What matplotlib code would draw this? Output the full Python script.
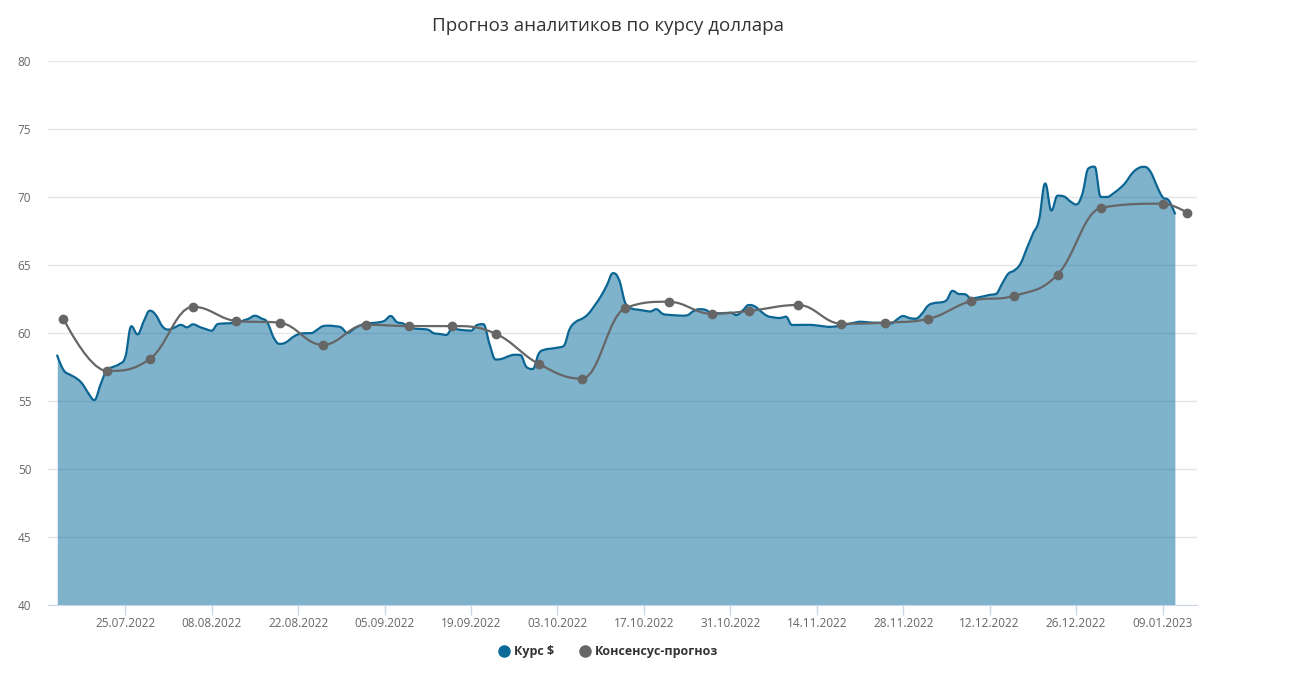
import numpy as np
import pandas as pd
import matplotlib
matplotlib.use('Agg')
import matplotlib.pyplot as plt
import matplotlib.dates as mdates
from matplotlib.lines import Line2D

plt.rcParams['font.family'] = ['Open Sans', 'DejaVu Sans']

# курс доллара, по дням начиная с 14.07.2022
kurs_start = '2022-07-14'
kurs = [58.33, 57.28, 56.95, 56.7, 56.3, 55.6, 55.07, 56.2, 57.25, 57.5, 57.7,
        58.2, 60.5, 59.9, 60.85, 61.64, 61.3, 60.5, 60.25, 60.4, 60.6, 60.42,
        60.64, 60.45, 60.3, 60.17, 60.66, 60.7, 60.72, 60.76, 60.9, 61.05, 61.27,
        61.08, 60.8, 59.7, 59.2, 59.3, 59.65, 59.9, 59.98, 59.98, 60.2, 60.5,
        60.54, 60.5, 60.4, 60.0, 60.3, 60.55, 60.7, 60.73, 60.78, 60.9, 61.25,
        60.8, 60.7, 60.4, 60.32, 60.29, 60.25, 59.98, 59.93, 59.85, 60.35, 60.25,
        60.2, 60.17, 60.59, 60.65, 59.2, 58.05, 58.1, 58.28, 58.4, 58.38, 57.5,
        57.35, 58.5, 58.78, 58.85, 58.92, 59.04, 60.3, 60.83, 61.05, 61.4, 62.0,
        62.67, 63.5, 64.4, 63.9, 62.2, 61.8, 61.72, 61.65, 61.58, 61.75, 61.42,
        61.33, 61.3, 61.27, 61.3, 61.6, 61.75, 61.7, 61.45, 61.45, 61.47, 61.5,
        61.32, 61.65, 62.06, 61.95, 61.57, 61.25, 61.15, 61.1, 61.2, 60.59, 60.59,
        60.6, 60.6, 60.55, 60.5, 60.45, 60.48, 60.55, 60.65, 60.75, 60.83, 60.8,
        60.76, 60.76, 60.7, 60.7, 61.0, 61.25, 61.1, 61.05, 61.4, 62.0, 62.2,
        62.25, 62.4, 63.1, 62.87, 62.85, 62.55, 62.6, 62.7, 62.8, 62.87, 63.6,
        64.35, 64.6, 65.1, 66.2, 67.3, 68.3, 71.0, 69.0, 70.1, 70.05, 69.7, 69.45,
        70.2, 72.1, 72.23, 70.0, 70.0, 70.25, 70.6, 71.05, 71.7, 72.1, 72.22,
        71.9, 70.9, 70.0, 69.75, 68.8]

# консенсус-прогноз
prog_dates = ['2022-07-15', '2022-07-22', '2022-07-29', '2022-08-05', '2022-08-12',
              '2022-08-19', '2022-08-26', '2022-09-02', '2022-09-09', '2022-09-16',
              '2022-09-23', '2022-09-30', '2022-10-07', '2022-10-14', '2022-10-21',
              '2022-10-28', '2022-11-03', '2022-11-11', '2022-11-18', '2022-11-25',
              '2022-12-02', '2022-12-09', '2022-12-16', '2022-12-23', '2022-12-30',
              '2023-01-09', '2023-01-13']
prog = [61.05, 57.21, 58.09, 61.93, 60.88, 60.76, 59.12, 60.61, 60.51, 60.51,
        59.95, 57.72, 56.64, 61.84, 62.30, 61.41, 61.62, 62.06, 60.68, 60.76,
        61.03, 62.35, 62.74, 64.29, 69.21, 69.51, 68.85]

tick_dates = pd.date_range('2022-07-25', '2023-01-09', freq='14D')


def spline(x, y, smoothing=1.5, steps=10):
    # сглаживание как у highcharts spline
    x = np.asarray(x, float)
    y = np.asarray(y, float)
    n = len(x)
    lx, ly = x.copy(), y.copy()
    rx, ry = x.copy(), y.copy()
    d = smoothing + 1
    for i in range(1, n - 1):
        lcx = (smoothing * x[i] + x[i-1]) / d
        lcy = (smoothing * y[i] + y[i-1]) / d
        rcx = (smoothing * x[i] + x[i+1]) / d
        rcy = (smoothing * y[i] + y[i+1]) / d
        if rcx != lcx:
            corr = (rcy - lcy) * (rcx - x[i]) / (rcx - lcx) + y[i] - rcy
            lcy += corr
            rcy += corr
            if lcy > y[i-1] and lcy > y[i]:
                lcy = max(y[i-1], y[i]); rcy = 2 * y[i] - lcy
            elif lcy < y[i-1] and lcy < y[i]:
                lcy = min(y[i-1], y[i]); rcy = 2 * y[i] - lcy
            if rcy > y[i+1] and rcy > y[i]:
                rcy = max(y[i+1], y[i]); lcy = 2 * y[i] - rcy
            elif rcy < y[i+1] and rcy < y[i]:
                rcy = min(y[i+1], y[i]); lcy = 2 * y[i] - rcy
        lx[i], ly[i], rx[i], ry[i] = lcx, lcy, rcx, rcy
    t = np.linspace(0, 1, steps, endpoint=False)[:, None]
    xs, ys = [], []
    for i in range(n - 1):
        px = np.array([x[i], rx[i], lx[i+1], x[i+1]])
        py = np.array([y[i], ry[i], ly[i+1], y[i+1]])
        b = np.hstack([(1-t)**3, 3*(1-t)**2*t, 3*(1-t)*t**2, t**3])
        xs.append(b @ px)
        ys.append(b @ py)
    xs.append([x[-1]])
    ys.append([y[-1]])
    return np.concatenate(xs), np.concatenate(ys)


kx = mdates.date2num(pd.date_range(kurs_start, periods=len(kurs), freq='D'))
px = mdates.date2num(pd.to_datetime(prog_dates))
kxs, kys = spline(kx, kurs)
pxs, pys = spline(px, prog)

fig = plt.figure(figsize=(13, 7), dpi=100)
ax = fig.add_axes([48/1300, 1-605/700, (1197-48)/1300, (605-61)/700])

ax.fill_between(kxs, kys, 40, color='#006699', alpha=0.5, lw=0, zorder=2)
ax.plot(kxs, kys, color='#0b6593', lw=1.6, zorder=3)
ax.plot(pxs, pys, color='#666666', lw=1.6, zorder=4)
ax.plot(px, prog, 'o', color='#666666', ms=6, zorder=5)

ax.set_ylim(40, 80)
ax.set_yticks(range(40, 81, 5))
ax.set_xlim(mdates.date2num(pd.Timestamp('2022-07-12 12:00')),
            mdates.date2num(pd.Timestamp('2023-01-14 14:00')))
ax.set_xticks(mdates.date2num(tick_dates))
ax.xaxis.set_major_formatter(mdates.DateFormatter('%d.%m.%Y'))

ax.grid(axis='y', color='#e6e6e6', lw=1, zorder=0)
ax.set_axisbelow(True)
for s in ['top', 'right', 'left']:
    ax.spines[s].set_visible(False)
ax.spines['bottom'].set_color('#ccd6eb')
ax.tick_params(axis='y', length=0, pad=12, labelsize=8.5, labelcolor='#666666')
ax.tick_params(axis='x', length=7.5, width=1, color='#ccd6eb', pad=1,
               labelsize=8.5, labelcolor='#666666')
for lab in ax.get_yticklabels():
    lab.set_horizontalalignment('right')

fig.text(608/1300, 1-26/700, 'Прогноз аналитиков по курсу доллара',
         ha='center', va='center', fontsize=13.5, color='#333333')

handles = [Line2D([], [], marker='o', ls='', color='#0b6a98', ms=8),
           Line2D([], [], marker='o', ls='', color='#666666', ms=8)]
leg = fig.legend(handles, ['Курс $', 'Консенсус-прогноз'], loc='center',
                 bbox_to_anchor=(608/1300, 1-652/700), ncol=2, frameon=False,
                 handletextpad=0.3, columnspacing=2.0, handlelength=1.0,
                 prop={'size': 9, 'weight': 'bold'})
for t in leg.get_texts():
    t.set_color('#333333')

plt.savefig('out.png', dpi=100)
plt.close()
